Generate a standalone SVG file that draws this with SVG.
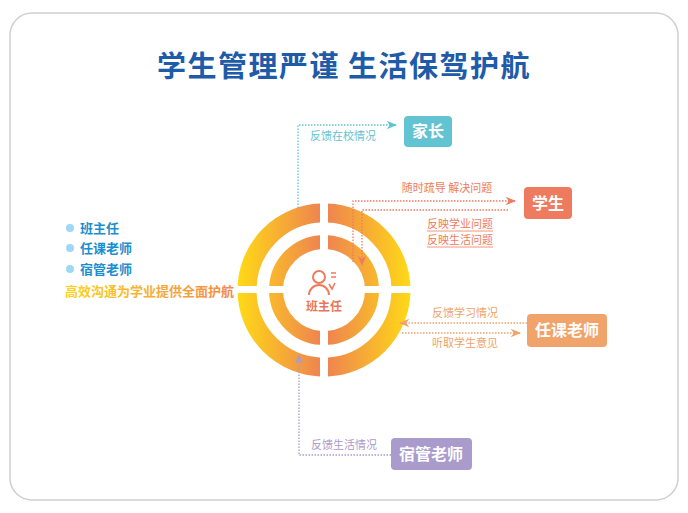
<svg xmlns="http://www.w3.org/2000/svg" width="688" height="513" viewBox="0 0 688 513">
<defs>
<linearGradient id="gl" gradientUnits="userSpaceOnUse" x1="238" y1="0" x2="324" y2="0"><stop offset="0" stop-color="#FFD916"/><stop offset="1" stop-color="#EE8152"/></linearGradient>
<linearGradient id="gr" gradientUnits="userSpaceOnUse" x1="324" y1="0" x2="410" y2="0"><stop offset="0" stop-color="#EE8152"/><stop offset="1" stop-color="#FFD916"/></linearGradient>
<linearGradient id="gt" gradientUnits="userSpaceOnUse" x1="65" y1="0" x2="253" y2="0"><stop offset="0" stop-color="#FFD21A"/><stop offset="1" stop-color="#EE8152"/></linearGradient>
<clipPath id="cl"><rect x="200" y="180" width="120" height="220"/></clipPath>
<clipPath id="cr"><rect x="328" y="180" width="120" height="220"/></clipPath>
<marker id="ab" viewBox="0 0 10 10" refX="9" refY="5" markerWidth="10" markerHeight="8" orient="auto"><path d="M0,1 L10,5 L0,9 L3,5 Z" fill="#62C3D2"/></marker>
<marker id="ao" viewBox="0 0 10 10" refX="9" refY="5" markerWidth="10" markerHeight="8" orient="auto"><path d="M0,1 L10,5 L0,9 L3,5 Z" fill="#EE7B5E"/></marker>
<marker id="ay" viewBox="0 0 10 10" refX="9" refY="5" markerWidth="10" markerHeight="8" orient="auto"><path d="M0,1 L10,5 L0,9 L3,5 Z" fill="#F0A36A"/></marker>
<marker id="ap" viewBox="0 0 10 10" refX="9" refY="5" markerWidth="10" markerHeight="8" orient="auto"><path d="M0,1 L10,5 L0,9 L3,5 Z" fill="#A99BCB"/></marker>
</defs>
<style>
text{font-family:"Noto Sans CJK SC","Noto Sans",sans-serif}
.box{font-size:16px;font-weight:bold;fill:#fff;text-anchor:middle}
.lbl{font-size:11px;text-anchor:middle}
.ln{fill:none;stroke-width:1.3;stroke-dasharray:1.5 1.5}
.li{font-size:13px;font-weight:bold;fill:#1A8FD0}
</style>
<rect x="10" y="13" width="668" height="487" rx="22" fill="#fff" stroke="#d0d0d0" stroke-width="1.5"/>
<text x="344" y="77" text-anchor="middle" font-size="29" font-weight="bold" fill="#1E5BA8" letter-spacing="1.5">学生管理严谨  生活保驾护航</text>
<g id="rings">
<g clip-path="url(#cl)"><circle cx="324" cy="290" r="77" fill="none" stroke="url(#gl)" stroke-width="19"/><circle cx="324" cy="290" r="48" fill="none" stroke="url(#gl)" stroke-width="14"/></g>
<g clip-path="url(#cr)"><circle cx="324" cy="290" r="77" fill="none" stroke="url(#gr)" stroke-width="19"/><circle cx="324" cy="290" r="48" fill="none" stroke="url(#gr)" stroke-width="14"/></g>
<rect x="230" y="286" width="190" height="7" fill="#fff"/>
</g>
<g id="list">
<circle cx="70" cy="228" r="4" fill="#9FD8F5"/><text class="li" x="80" y="233">班主任</text>
<circle cx="70" cy="248" r="4" fill="#9FD8F5"/><text class="li" x="80" y="253">任课老师</text>
<circle cx="70" cy="269" r="4" fill="#9FD8F5"/><text class="li" x="80" y="274">宿管老师</text>
<text x="65" y="296" font-size="13" font-weight="bold" fill="url(#gt)">高效沟通为学业提供全面护航</text>
</g>
<g id="center">
<circle cx="319" cy="277" r="6" fill="none" stroke="#EE7B5E" stroke-width="2"/>
<path d="M309,295 A10,10 0 0 1 329,295" fill="none" stroke="#EE7B5E" stroke-width="2"/>
<path d="M329,284 l3,5 l3,-6 M331,273 h5 M331,277 h5" fill="none" stroke="#EE7B5E" stroke-width="1.6"/>
<text x="324" y="311" text-anchor="middle" font-size="12" font-weight="bold" fill="#E8765A">班主任</text>
</g>
<g id="connectors">
<path class="ln" d="M298,208 V125 H396" stroke="#62C3D2" marker-end="url(#ab)"/>
<path class="ln" d="M353,262 V201 H515" stroke="#EE7B5E" marker-end="url(#ao)"/>
<path class="ln" d="M508,210 H362 V265" stroke="#EE7B5E" marker-end="url(#ao)"/>
<path class="ln" d="M527,323 H400" stroke="#F0A36A" marker-end="url(#ay)"/>
<path class="ln" d="M402,333 H520" stroke="#F0A36A" marker-end="url(#ay)"/>
<path class="ln" d="M391,455 H299 V355" stroke="#A99BCB" marker-end="url(#ap)"/>
<text class="lbl" x="343" y="140" fill="#62C3D2">反馈在校情况</text>
<text class="lbl" x="447" y="192" fill="#EE7B5E">随时疏导 解决问题</text>
<text class="lbl" x="460" y="228" fill="#EE7B5E">反映学业问题</text>
<line x1="427" y1="231" x2="493" y2="231" stroke="#EE7B5E" stroke-width="0.8"/>
<text class="lbl" x="460" y="244" fill="#EE7B5E">反映生活问题</text>
<line x1="427" y1="247" x2="493" y2="247" stroke="#EE7B5E" stroke-width="0.8"/>
<text class="lbl" x="465" y="317" fill="#F0A36A">反馈学习情况</text>
<text class="lbl" x="465" y="347" fill="#F0A36A">听取学生意见</text>
<text class="lbl" x="344" y="449" fill="#A99BCB">反馈生活情况</text>
</g>
<g id="n-parent"><rect x="404" y="116" width="48" height="31" rx="4" fill="#62C3D2"/><text class="box" x="428" y="137">家长</text></g>
<g id="n-student"><rect x="524" y="187" width="48" height="32" rx="4" fill="#EE7B5E"/><text class="box" x="548" y="209">学生</text></g>
<g id="n-teacher"><rect x="527" y="314" width="80" height="33" rx="4" fill="#F0A36A"/><text class="box" x="567" y="336">任课老师</text></g>
<g id="n-dorm"><rect x="391" y="438" width="81" height="32" rx="4" fill="#A99BCB"/><text class="box" x="431" y="460">宿管老师</text></g>
</svg>
